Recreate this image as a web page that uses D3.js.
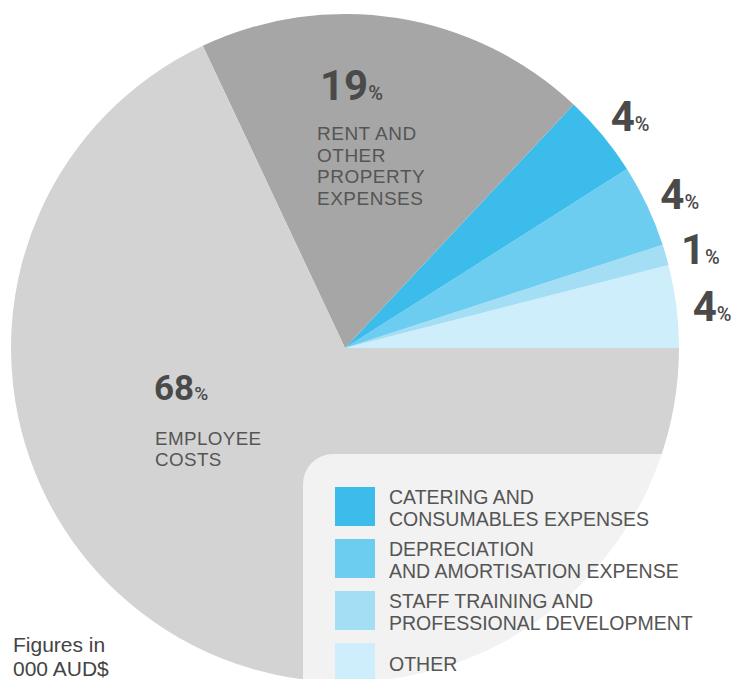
<!DOCTYPE html>
<html>
<head>
<meta charset="utf-8">
<script src="https://cdn.jsdelivr.net/npm/d3@7/dist/d3.min.js"></script>
<style>
  html, body { margin: 0; padding: 0; background: #ffffff; }
  svg { display: block; }
  text { font-family: "Liberation Sans", Arial, sans-serif; }
  text.num { font-family: Roboto, "Liberation Sans", sans-serif; }
</style>
</head>
<body>
<svg id="chart" width="745" height="679"></svg>
<script>
// ---- data ----
const categories = [
  "Other",
  "Staff training and professional development",
  "Depreciation and amortisation expense",
  "Catering and consumables expenses",
  "Rent and other property expenses",
  "Employee costs"
];
const values = [4, 1, 4, 4, 19, 68];
const sliceColors = ["#cdeefa", "#a3def5", "#6dcdf0", "#3bbceb", "#a6a6a6", "#d3d3d3"];
const outerLabelCats = ["Other", "Staff training and professional development",
  "Depreciation and amortisation expense", "Catering and consumables expenses"];
const rentCaption = ["RENT AND", "OTHER", "PROPERTY", "EXPENSES"];
const employeeCaption = ["EMPLOYEE", "COSTS"];
const legendCats = ["Catering and consumables expenses", "Depreciation and amortisation expense",
  "Staff training and professional development", "Other"];
const legendLabels = [
  ["CATERING AND", "CONSUMABLES EXPENSES"],
  ["DEPRECIATION", "AND AMORTISATION EXPENSE"],
  ["STAFF TRAINING AND", "PROFESSIONAL DEVELOPMENT"],
  ["OTHER"]
];
const noteLines = ["Figures in", "000 AUD$"];

// ---- layout ----
const cx = 345, cy = 348, R = 334;
const textColor = "#555555", numColor = "#4a4a4a";

const svg = d3.select("#chart");
const color = d3.scaleOrdinal().domain(categories).range(sliceColors);

const data = categories.map((c, i) => ({ cat: c, value: values[i] }));
const pie = d3.pie().sort(null).value(d => d.value)
  .startAngle(Math.PI / 2).endAngle(Math.PI / 2 - 2 * Math.PI);
const arcs = pie(data);
const arc = d3.arc().innerRadius(0).outerRadius(R);
const labelArc = d3.arc().innerRadius(370).outerRadius(370);

const g = svg.append("g").attr("transform", `translate(${cx},${cy})`);
g.selectAll("path.slice").data(arcs).join("path")
  .attr("class", "slice")
  .attr("d", arc)
  .attr("fill", d => color(d.data.cat));

// helpers
const pctLabel = (sel, num, bigSize, smallSize) => {
  sel.attr("class", "num");
  sel.append("tspan").attr("font-size", bigSize).attr("font-weight", 700).text(num);
  sel.append("tspan").attr("font-size", smallSize).attr("font-weight", 500).text("%");
};
const multiLine = (parent, x, y, lines, size, lh, fill, ls) => {
  const t = parent.append("text").attr("x", x).attr("y", y)
    .attr("font-size", size).attr("fill", fill)
    .attr("letter-spacing", ls || 0);
  lines.forEach((line, j) => {
    t.append("tspan").attr("x", x).attr("dy", j === 0 ? 0 : lh).text(line);
  });
  return t;
};

// outer % labels for small slices
arcs.filter(d => outerLabelCats.includes(d.data.cat)).forEach(d => {
  const [x, y] = labelArc.centroid(d);
  const t = g.append("text")
    .attr("x", x).attr("y", y + 19)
    .attr("text-anchor", "middle")
    .attr("fill", numColor);
  pctLabel(t, d.data.value, 42, 20);
});

// big inside labels
const rentArc = arcs.find(d => d.data.cat === "Rent and other property expenses");
const empArc = arcs.find(d => d.data.cat === "Employee costs");

const rt = g.append("text").attr("x", -25).attr("y", -248).attr("fill", numColor);
pctLabel(rt, rentArc.data.value, 42, 20);
multiLine(g, -28, -208, rentCaption, 19, 21.5, textColor, 0.5);

const et = g.append("text").attr("x", -191).attr("y", 52).attr("fill", numColor);
pctLabel(et, empArc.data.value, 35, 19);
multiLine(g, -190, 97, employeeCaption, 18.8, 21, textColor, 0.4);

// legend box (translucent white over the pie)
svg.append("rect")
  .attr("x", 303).attr("y", 454)
  .attr("width", 600).attr("height", 400)
  .attr("rx", 30).attr("ry", 30)
  .attr("fill", "#ffffff").attr("fill-opacity", 0.7);

const legend = svg.append("g").attr("transform", "translate(335,487)");
const rows = legend.selectAll("g.row").data(legendCats).join("g")
  .attr("class", "row")
  .attr("transform", (d, i) => `translate(0,${i * 52})`);
rows.append("rect")
  .attr("width", 40).attr("height", 39)
  .attr("fill", d => color(d));
rows.each(function (d, i) {
  const lines = legendLabels[i];
  const base = lines.length === 1 ? 28 : 16.5;
  multiLine(d3.select(this), 54, base, lines, 19.5, 22, textColor, 0);
});

// footnote
multiLine(svg, 13, 652, noteLines, 21, 23.6, "#444444", 0);
</script>
</body>
</html>
